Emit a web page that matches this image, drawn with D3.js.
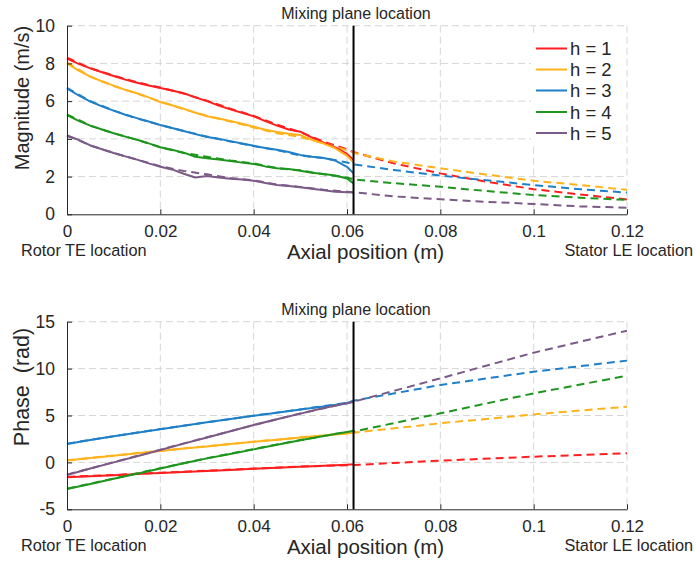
<!DOCTYPE html>
<html><head><meta charset="utf-8">
<script src="https://cdn.jsdelivr.net/npm/d3@7"></script>
<style>
body{margin:0;background:#fff}
svg text{font-family:"Liberation Sans",Arial,Helvetica,sans-serif;fill:#262626}
</style>
</head><body>
<svg id="c" width="696" height="563"></svg>
<script>
// ---------- data ----------
const seriesNames = ["h = 1", "h = 2", "h = 3", "h = 4", "h = 5"];
const seriesColors = ["#ff1f1f", "#ffb21a", "#1f80c8", "#1e961e", "#7b5a87"];
const xTicks = [0, 0.02, 0.04, 0.06, 0.08, 0.1, 0.12];
const xTickLabels = ["0", "0.02", "0.04", "0.06", "0.08", "0.1", "0.12"];
const magTicks = [0, 2, 4, 6, 8, 10];
const magTickLabels = ["0", "2", "4", "6", "8", "10"];
const phaseTicks = [-5, 0, 5, 10, 15];
const phaseTickLabels = ["-5", "0", "5", "10", "15"];
const mixingPlane = 0.0614;

// magnitude, measured (solid) in rotor region
const xMeasMag = [0,0.0025,0.005,0.0075,0.01,0.0125,0.015,0.0175,0.02,0.0225,0.025,0.0275,0.03,0.0325,0.035,0.0375,0.04,0.0425,0.045,0.0475,0.05,0.0525,0.055,0.0575,0.06,0.0614];
const magMeas1 = [8.25,7.98,7.74,7.53,7.33,7.14,6.98,6.83,6.7,6.56,6.42,6.2,6.0,5.76,5.57,5.38,5.2,4.94,4.7,4.5,4.38,4.07,3.8,3.55,3.2,2.88];
const magMeas2 = [8.0,7.62,7.3,7.05,6.82,6.6,6.42,6.2,5.95,5.78,5.6,5.38,5.2,5.08,4.95,4.8,4.64,4.48,4.36,4.27,4.2,3.95,3.75,3.5,3.1,2.75];
const magMeas3 = [6.68,6.3,5.98,5.72,5.5,5.28,5.1,4.92,4.73,4.58,4.42,4.25,4.1,4.0,3.88,3.75,3.63,3.52,3.42,3.3,3.15,3.05,2.98,2.85,2.52,2.17];
const magMeas4 = [5.26,4.95,4.7,4.5,4.3,4.12,3.95,3.76,3.56,3.42,3.27,3.05,2.97,2.9,2.82,2.74,2.67,2.54,2.44,2.4,2.31,2.2,2.14,2.06,1.9,1.64];
const magMeas5 = [4.15,3.95,3.65,3.45,3.25,3.07,2.9,2.7,2.52,2.38,2.15,1.95,2.03,1.95,1.88,1.84,1.78,1.66,1.55,1.5,1.43,1.36,1.28,1.2,1.17,1.15];

// magnitude, model (dashed) over whole domain
const xModelMag = [0,0.005,0.01,0.015,0.02,0.025,0.03,0.035,0.04,0.045,0.05,0.055,0.06,0.0614,0.07,0.08,0.09,0.1,0.11,0.12];
const magModel1 = [8.3,7.75,7.35,7.0,6.72,6.4,6.02,5.6,5.22,4.75,4.35,3.85,3.45,3.3,2.7,2.17,1.72,1.33,1.05,0.79];
const magModel2 = [8.05,7.3,6.8,6.4,5.98,5.58,5.22,4.92,4.6,4.3,4.1,3.78,3.4,3.25,2.8,2.44,2.1,1.78,1.55,1.3];
const magModel3 = [6.7,6.0,5.5,5.08,4.74,4.42,4.12,3.86,3.62,3.4,3.12,2.98,2.75,2.65,2.35,2.05,1.8,1.55,1.33,1.15];
const magModel4 = [5.3,4.7,4.3,3.95,3.55,3.25,3.05,2.85,2.7,2.45,2.33,2.12,1.95,1.85,1.65,1.46,1.23,1.02,0.88,0.76];
const magModel5 = [4.2,3.65,3.25,2.9,2.55,2.3,2.12,1.92,1.8,1.58,1.45,1.3,1.2,1.17,0.95,0.8,0.66,0.55,0.42,0.35];

// phase, measured (solid)
const xMeasPh = [0,0.005,0.01,0.015,0.02,0.025,0.03,0.035,0.04,0.045,0.05,0.055,0.06,0.0614];
const phMeas1 = [-1.59,-1.47,-1.36,-1.25,-1.13,-1.02,-0.91,-0.8,-0.68,-0.57,-0.46,-0.35,-0.24,-0.2];
const phMeas2 = [0.19,0.47,0.72,0.98,1.22,1.47,1.7,1.95,2.2,2.42,2.65,2.87,3.08,3.17];
const phMeas3 = [1.96,2.38,2.78,3.17,3.53,3.9,4.27,4.62,4.97,5.3,5.63,5.95,6.3,6.55];
const phMeas4 = [-2.84,-2.3,-1.75,-1.2,-0.65,-0.1,0.43,0.9,1.39,1.88,2.35,2.82,3.25,3.38];
const phMeas5 = [-1.34,-0.65,0.0,0.65,1.32,2.0,2.65,3.32,3.99,4.6,5.2,5.8,6.3,6.47];

// phase, model (dashed)
const xModelPh = [0,0.01,0.02,0.03,0.04,0.05,0.06,0.0614,0.08,0.1,0.12];
const phModel1 = [-1.55,-1.33,-1.1,-0.88,-0.66,-0.44,-0.3,-0.28,0.19,0.61,0.97];
const phModel2 = [0.22,0.74,1.24,1.72,2.2,2.66,3.1,3.17,4.17,5.12,5.94];
const phModel3 = [2.0,2.8,3.55,4.28,4.98,5.65,6.35,6.58,8.25,9.67,10.85];
const phModel4 = [-2.8,-1.72,-0.62,0.45,1.42,2.38,3.25,3.28,5.23,7.36,9.24];
const phModel5 = [-1.3,0.02,1.35,2.68,3.98,5.22,6.32,6.47,8.96,11.7,14.04];

// ---------- drawing ----------
const svg = d3.select("#c");
const X0 = 67, X1 = 627;
const x = d3.scaleLinear().domain([0, 0.12]).range([X0, X1]);
const FONT = '"Liberation Sans",Arial,sans-serif';

function panel(cfg) {
  const y = d3.scaleLinear().domain(cfg.yDomain).range([cfg.bottom, cfg.top]);
  const g = svg.append("g");

  // grid
  const grid = g.append("g").attr("stroke", "#d6d6d6").attr("stroke-width", 1).attr("stroke-dasharray", "7,4");
  xTicks.filter(t => t > 0).forEach(t => {
    grid.append("line").attr("x1", x(t)).attr("x2", x(t)).attr("y1", cfg.top).attr("y2", cfg.bottom);
  });
  cfg.yTicks.filter(t => t > cfg.yDomain[0]).forEach(t => {
    grid.append("line").attr("x1", X0).attr("x2", X1).attr("y1", y(t)).attr("y2", y(t));
  });

  const line = (xs) => d3.line().x((d, i) => x(xs[i])).y(d => y(d));

  // model (dashed)
  cfg.model.forEach((arr, k) => {
    g.append("path").datum(arr).attr("d", line(cfg.xModel))
      .attr("fill", "none").attr("stroke", seriesColors[k]).attr("stroke-width", 2)
      .attr("stroke-dasharray", "8,5");
  });
  // measured (solid)
  cfg.meas.forEach((arr, k) => {
    g.append("path").datum(arr).attr("d", line(cfg.xMeas))
      .attr("fill", "none").attr("stroke", seriesColors[k]).attr("stroke-width", 2)
      .attr("stroke-linejoin", "round");
  });

  // mixing plane
  g.append("line").attr("x1", x(mixingPlane)).attr("x2", x(mixingPlane))
    .attr("y1", cfg.top).attr("y2", cfg.bottom).attr("stroke", "#000").attr("stroke-width", 2);

  // axes
  const xAxis = d3.axisBottom(x).tickValues(xTicks).tickFormat((d, i) => xTickLabels[i])
    .tickSizeInner(-5).tickSizeOuter(0).tickPadding(11);
  const xa = g.append("g").attr("transform", `translate(0,${cfg.bottom})`).call(xAxis);
  xa.select(".domain").attr("stroke", "#262626");
  xa.selectAll(".tick line").attr("stroke", "#262626");
  xa.selectAll(".tick text").attr("font-size", 17).attr("dy", "0.71em").attr("fill", "#262626")
    .attr("font-family", FONT);

  const yAxis = d3.axisLeft(y).tickValues(cfg.yTicks).tickFormat((d, i) => cfg.yTickLabels[i])
    .tickSizeInner(-5).tickSizeOuter(0).tickPadding(12);
  const ya = g.append("g").attr("transform", `translate(${X0},0)`).call(yAxis);
  ya.select(".domain").attr("stroke", "#262626");
  ya.selectAll(".tick line").attr("stroke", "#262626");
  ya.selectAll(".tick text").attr("font-size", 17.5).attr("fill", "#262626")
    .attr("font-family", FONT);

  // labels
  g.append("text").attr("x", 356).attr("y", cfg.top - 6.5).attr("text-anchor", "middle")
    .attr("font-size", 16).text("Mixing plane location");
  g.append("text").attr("x", 21).attr("y", cfg.bottom + 42).attr("font-size", 16.3).text("Rotor TE location");
  g.append("text").attr("x", 693).attr("y", cfg.bottom + 42).attr("text-anchor", "end")
    .attr("font-size", 16.3).text("Stator LE location");
  g.append("text").attr("x", 365.5).attr("y", cfg.bottom + 45).attr("text-anchor", "middle")
    .attr("font-size", 20.5).text("Axial position (m)");
  g.append("text").attr("transform", `translate(29,${cfg.labelY}) rotate(-90)`)
    .attr("text-anchor", "middle").attr("font-size", cfg.labelSize)
    .style("white-space", "pre").text(cfg.label);

  if (cfg.legend) {
    const lg = g.append("g");
    lg.append("rect").attr("x", 531).attr("y", 35).attr("width", 95).attr("height", 110).attr("fill", "#fff");
    const rows = [48.5, 69.5, 90.5, 112, 133];
    seriesNames.forEach((n, k) => {
      lg.append("line").attr("x1", 536).attr("x2", 567).attr("y1", rows[k]).attr("y2", rows[k])
        .attr("stroke", seriesColors[k]).attr("stroke-width", 2);
      lg.append("text").attr("x", 570).attr("y", rows[k]).attr("dy", "0.36em")
        .attr("font-size", 18.5).attr("fill", "#000").text(n);
    });
  }
}

panel({
  top: 25.7, bottom: 214.3, yDomain: [0, 10], yTicks: magTicks, yTickLabels: magTickLabels,
  label: "Magnitude (m/s)", labelY: 98, labelSize: 20,
  xMeas: xMeasMag, meas: [magMeas1, magMeas2, magMeas3, magMeas4, magMeas5],
  xModel: xModelMag, model: [magModel1, magModel2, magModel3, magModel4, magModel5],
  legend: true
});
panel({
  top: 321.7, bottom: 509.3, yDomain: [-5, 15], yTicks: phaseTicks, yTickLabels: phaseTickLabels,
  label: "Phase  (rad)", labelY: 387, labelSize: 21.5,
  xMeas: xMeasPh, meas: [phMeas1, phMeas2, phMeas3, phMeas4, phMeas5],
  xModel: xModelPh, model: [phModel1, phModel2, phModel3, phModel4, phModel5],
  legend: false
});
</script>
</body></html>
